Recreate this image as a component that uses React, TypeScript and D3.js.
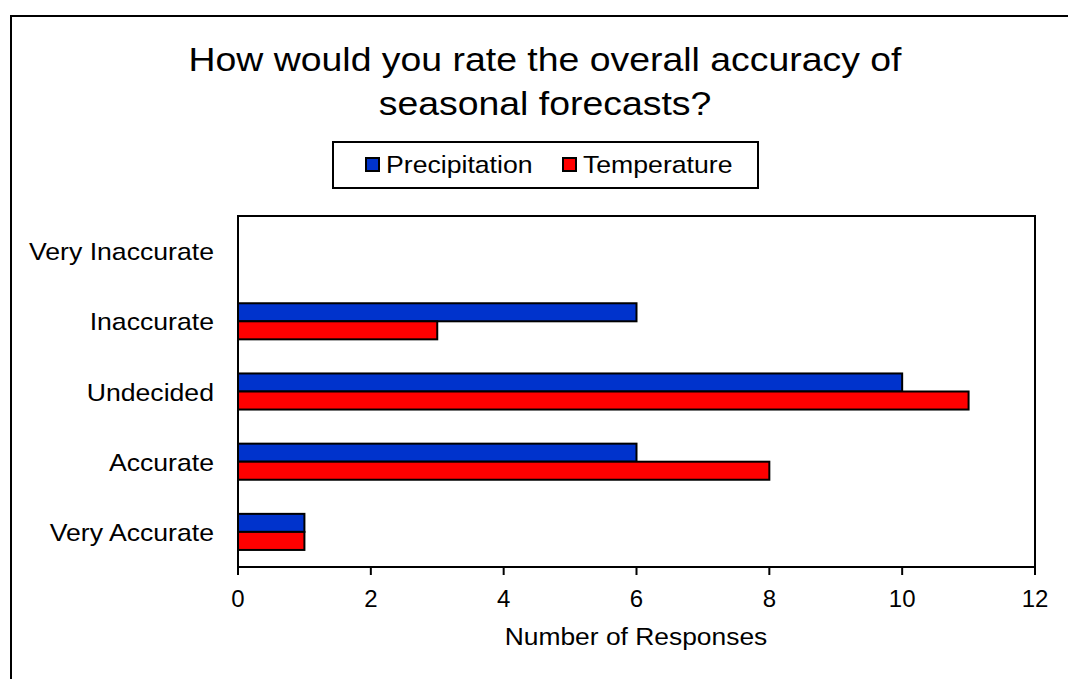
import React from "react";
import * as d3 from "d3";

const categories = ["Very Inaccurate", "Inaccurate", "Undecided", "Accurate", "Very Accurate"];
const seriesNames = ["Precipitation", "Temperature"];
const precipitation = [0, 6, 10, 6, 1];
const temperature = [0, 3, 11, 8, 1];
const xTicks = [0, 2, 4, 6, 8, 10, 12];
const colors = ["#0033CC", "#FF0000"];

const W = 1068;
const H = 679;
const plot = { left: 238, right: 1035, top: 216, bottom: 567 };
const FONT = "'Liberation Sans', Arial, sans-serif";

// Text drawn slightly wider than the font's natural width.
function Label(props: { x: number; y: number; size: number; anchor?: string; sx?: number; children: React.ReactNode }) {
  const { x, y, size, anchor = "start", sx = 1.1, children } = props;
  return (
    <g transform={`translate(${x},${y}) scale(${sx},1)`}>
      <text x={0} y={0} textAnchor={anchor} fontSize={size}>
        {children}
      </text>
    </g>
  );
}

export default function App() {
  const x = d3.scaleLinear().domain([0, 12]).range([plot.left, plot.right]);
  const y = d3.scaleBand<string>().domain(categories).range([plot.top, plot.bottom]).padding(0);
  const barH = y.bandwidth() * 0.257;
  const series = [precipitation, temperature];

  return (
    <svg width={W} height={H} style={{ position: "absolute", left: 0, top: 0, background: "#fff" }} fontFamily={FONT}>
      <rect x={11} y={16} width={W + 20} height={H + 20} fill="#fff" stroke="#000" strokeWidth={2} />
      <Label x={545} y={71} size={34} anchor="middle" sx={1.1}>How would you rate the overall accuracy of</Label>
      <Label x={545} y={115} size={34} anchor="middle" sx={1.1}>seasonal forecasts?</Label>

      {/* legend */}
      <rect x={333} y={142} width={425} height={46} fill="#fff" stroke="#000" strokeWidth={2} />
      {seriesNames.map((name, i) => {
        const lx = i === 0 ? 366 : 563;
        return (
          <g key={name}>
            <rect x={lx} y={158} width={13} height={13} fill={colors[i]} stroke="#000" strokeWidth={2} />
            <Label x={lx + 20} y={173} size={24} sx={1.11}>{name}</Label>
          </g>
        );
      })}

      {/* plot frame */}
      <rect x={plot.left} y={plot.top} width={plot.right - plot.left} height={plot.bottom - plot.top} fill="#fff" stroke="#000" strokeWidth={2} />

      {/* bars */}
      {categories.map((c, ci) => {
        const cy = (y(c) as number) + y.bandwidth() / 2;
        return series.map((vals, si) =>
          vals[ci] > 0 ? (
            <rect
              key={c + si}
              x={x(0)}
              y={cy - barH + si * barH}
              width={x(vals[ci]) - x(0)}
              height={barH}
              fill={colors[si]}
              stroke="#000"
              strokeWidth={2}
            />
          ) : null
        );
      })}

      {/* category labels */}
      {categories.map((c) => (
        <Label key={c} x={214} y={(y(c) as number) + y.bandwidth() / 2 + 9} size={24} anchor="end" sx={1.11}>
          {c}
        </Label>
      ))}

      {/* x axis ticks */}
      {xTicks.map((t) => (
        <g key={t}>
          <line x1={x(t)} x2={x(t)} y1={plot.bottom} y2={plot.bottom + 8} stroke="#000" strokeWidth={2} />
          <text x={x(t)} y={607} textAnchor="middle" fontSize={24}>{t}</text>
        </g>
      ))}
      <Label x={636} y={645} size={24} anchor="middle" sx={1.1}>Number of Responses</Label>
    </svg>
  );
}
